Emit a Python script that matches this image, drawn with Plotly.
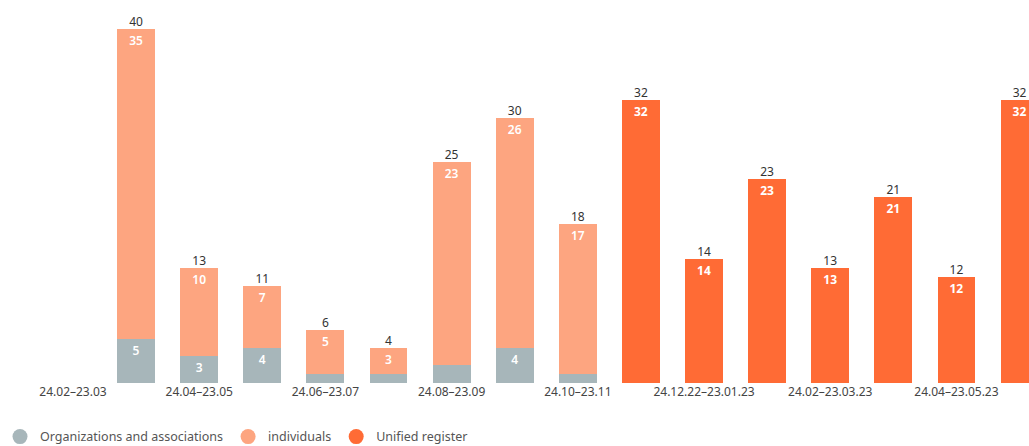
import plotly.graph_objects as go

categories = ["24.02–23.03", "24.03–23.04", "24.04–23.05", "24.05–23.06", "24.06–23.07",
              "24.07–23.08", "24.08–23.09", "24.09–23.10", "24.10–23.11", "24.11–23.12",
              "24.12.22–23.01.23", "24.01–23.02.23", "24.02–23.03.23", "24.03–23.04.23",
              "24.04–23.05.23", "24.05–23.06.23"]
organizations = [None, 5, 3, 4, 1, 1, 2, 4, 1, None, None, None, None, None, None, None]
individuals = [None, 35, 10, 7, 5, 3, 23, 26, 17, None, None, None, None, None, None, None]
unified = [None, None, None, None, None, None, None, None, None, 32, 14, 23, 13, 21, 12, 32]
tick_labels = categories[::2]

C_ORG = "#a7b6ba"
C_IND = "#fda580"
C_UNI = "#ff6b35"
FONT = "Noto Sans"


def labels(vals, minimum=3):
    return ["" if v is None or v < minimum else str(v) for v in vals]


totals = []
for o, i, u in zip(organizations, individuals, unified):
    parts = [v for v in (o, i, u) if v is not None]
    totals.append(sum(parts) if parts else None)

fig = go.Figure()
for name, vals, col, wt in [("Organizations and associations", organizations, C_ORG, 600),
                            ("individuals", individuals, C_IND, 600),
                            ("Unified register", unified, C_UNI, "bold")]:
    fig.add_trace(go.Bar(
        x=categories, y=vals, name=name, marker=dict(color=col, line=dict(width=0)),
        text=labels(vals), textposition="inside", insidetextanchor="end", textangle=0,
        insidetextfont=dict(color="white", size=12, family=FONT, weight=wt),
        showlegend=False, hoverinfo="skip"))

fig.add_trace(go.Scatter(
    x=categories, y=totals, mode="text", text=[("" if t is None else str(t)) for t in totals],
    textposition="top center", textfont=dict(color="#333333", size=12, family=FONT),
    showlegend=False, hoverinfo="skip", cliponaxis=False))

for name, col in [("Organizations and associations", C_ORG),
                  ("individuals", C_IND),
                  ("Unified register", C_UNI)]:
    fig.add_trace(go.Scatter(x=[None], y=[None], mode="markers", name=name,
                             marker=dict(color=col, size=15, symbol="circle")))

fig.update_layout(
    width=1029, height=446,
    margin=dict(l=0, r=0, t=10, b=63, autoexpand=False),
    barmode="stack", bargap=0.4,
    plot_bgcolor="white", paper_bgcolor="white",
    font=dict(family=FONT, color="#444444", size=12),
    xaxis=dict(type="category", range=[-1.157, 15.15], tickmode="array",
               tickvals=tick_labels, ticktext=tick_labels, showline=False,
               showgrid=False, zeroline=False, ticks="", tickfont=dict(size=12, color="#444444")),
    yaxis=dict(range=[0, 42.15], visible=False, showgrid=False, zeroline=False),
    legend=dict(orientation="h", xref="container", yref="container",
                x=0, xanchor="left", y=0.0202, yanchor="middle",
                traceorder="normal", font=dict(size=12.5, color="#555555"),
                itemwidth=30, tracegroupgap=0),
)

fig.write_html("out.html", config={"displayModeBar": False},
               post_script="document.body.style.margin='0px';")
